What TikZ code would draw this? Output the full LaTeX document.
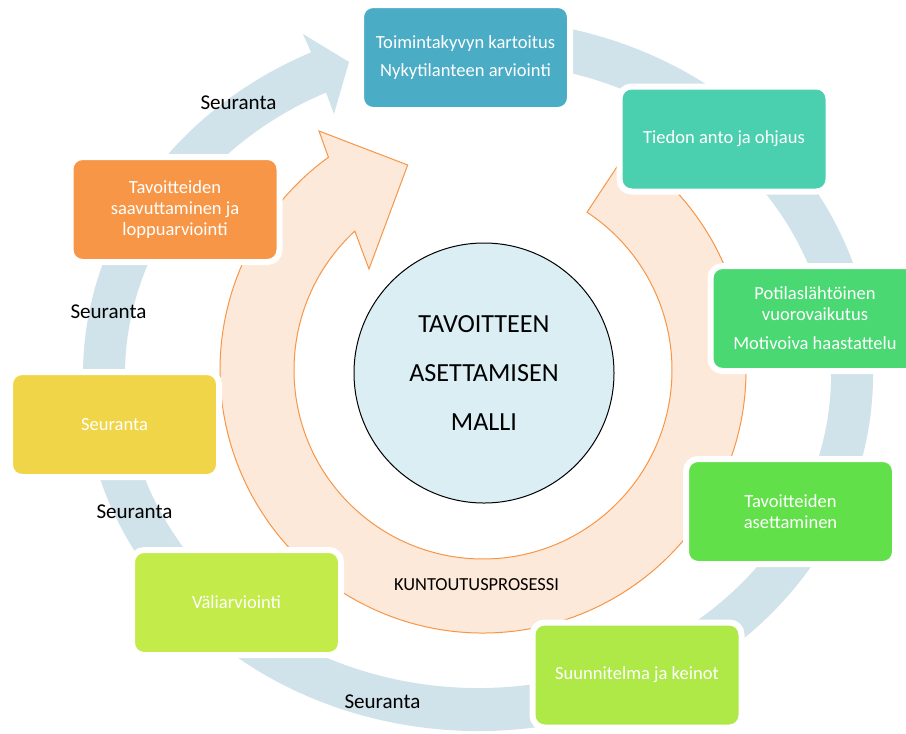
\documentclass[tikz,border=0pt]{standalone}
\usepackage{fontspec}
\setmainfont{Carlito}
\usetikzlibrary{calc}

\definecolor{ringblue}{RGB}{208,226,234}
\definecolor{orangefill}{RGB}{253,233,218}
\definecolor{orangeline}{RGB}{247,150,70}
\definecolor{circfill}{RGB}{218,238,243}
\definecolor{stepA}{RGB}{75,172,198}
\definecolor{stepB}{RGB}{74,207,175}
\definecolor{stepC}{RGB}{74,216,115}
\definecolor{stepD}{RGB}{98,224,74}
\definecolor{stepE}{RGB}{174,233,72}
\definecolor{stepF}{RGB}{195,235,74}
\definecolor{stepG}{RGB}{240,213,72}
\definecolor{stepH}{RGB}{247,150,70}

\begin{document}
\begin{tikzpicture}[
        x=0.75pt, y=-0.75pt,
        stage/.style={rectangle, rounded corners=9pt, draw=white, line width=4.5pt, text=white, align=center, font=\fontsize{13.9}{15.6}\selectfont, minimum width=156.75pt, minimum height=78.75pt, inner sep=0pt},
        follow/.style={font=\fontsize{15.8}{18}\selectfont, text=black, inner sep=0pt},
        model/.style={circle, draw=black, line width=0.75pt, fill=circfill, minimum size=195pt, inner sep=0pt, align=center, font=\fontsize{19.6}{37}\selectfont}
    ]

        % ----------------------------------------------------
        % CANVAS
        % ----------------------------------------------------
        \useasboundingbox (0,0) rectangle (906,733);
        \fill[white] (0,0) rectangle (906,733);
        \clip (0,0) rectangle (906,733);

        \coordinate (rc) at (478,375);
        \coordinate (oc) at (483,370);

        % ----------------------------------------------------
        % OUTER CYCLE (Seuranta ring)
        % ----------------------------------------------------
        \fill[ringblue] ($(rc)+(-80:395 and 356)$)
            arc[start angle=-80, end angle=245, x radius=395, y radius=356]
            -- (303,34) -- (349,62) -- (334,114)
            -- ($(rc)+(244.5:353 and 313)$)
            arc[start angle=244.5, end angle=-80, x radius=353, y radius=313]
            -- cycle;

        % ----------------------------------------------------
        % INNER CYCLE (Kuntoutusprosessi)
        % ----------------------------------------------------
        \filldraw[fill=orangefill, draw=orangeline, line width=0.75pt] ($(oc)+(-56.6:263)$)
            arc[start angle=-56.6, end angle=234, radius=263]
            -- (319,131) -- (407.7,165) -- (369,269)
            -- ($(oc)+(227.3:189)$)
            arc[start angle=227.3, end angle=-56.6, radius=189]
            -- cycle;

        \node[model] (model) at (484,373) {TAVOITTEEN\\ASETTAMISEN\\MALLI};
        \node[font=\fontsize{13.8}{16}\selectfont, inner sep=0pt] (process) at (476.5,585) {KUNTOUTUSPROSESSI};

        % ----------------------------------------------------
        % STAGES
        % ----------------------------------------------------
        \node[stage, fill=stepA] (kartoitus) at (465.5,57.5) {Toimintakyvyn kartoitus\\[4.8pt]Nykytilanteen arviointi};
        \node[stage, fill=stepB] (ohjaus) at (724,139) {Tiedon anto ja ohjaus};
        \node[stage, fill=stepC] (vuorovaikutus) at (815,318.5) {Potilaslähtöinen\\vuorovaikutus\\[6.2pt]Motivoiva haastattelu};
        \node[stage, fill=stepD] (asettaminen) at (790.5,511.5) {Tavoitteiden\\asettaminen};
        \node[stage, fill=stepE] (keinot) at (637,675) {Suunnitelma ja keinot};
        \node[stage, fill=stepF] (valiarviointi) at (236.5,602.5) {Väliarviointi};
        \node[stage, fill=stepG] (seuranta) at (114.5,424.5) {Seuranta};
        \node[stage, fill=stepH] (loppuarviointi) at (175,209.5) {Tavoitteiden\\saavuttaminen ja\\loppuarviointi};

        % ----------------------------------------------------
        % FOLLOW-UP LABELS
        % ----------------------------------------------------
        \node[follow] (follow1) at (238.5,103) {Seuranta};
        \node[follow] (follow2) at (108.5,312) {Seuranta};
        \node[follow] (follow3) at (134.5,512) {Seuranta};
        \node[follow] (follow4) at (382.5,702) {Seuranta};

    \end{tikzpicture}
\end{document}
